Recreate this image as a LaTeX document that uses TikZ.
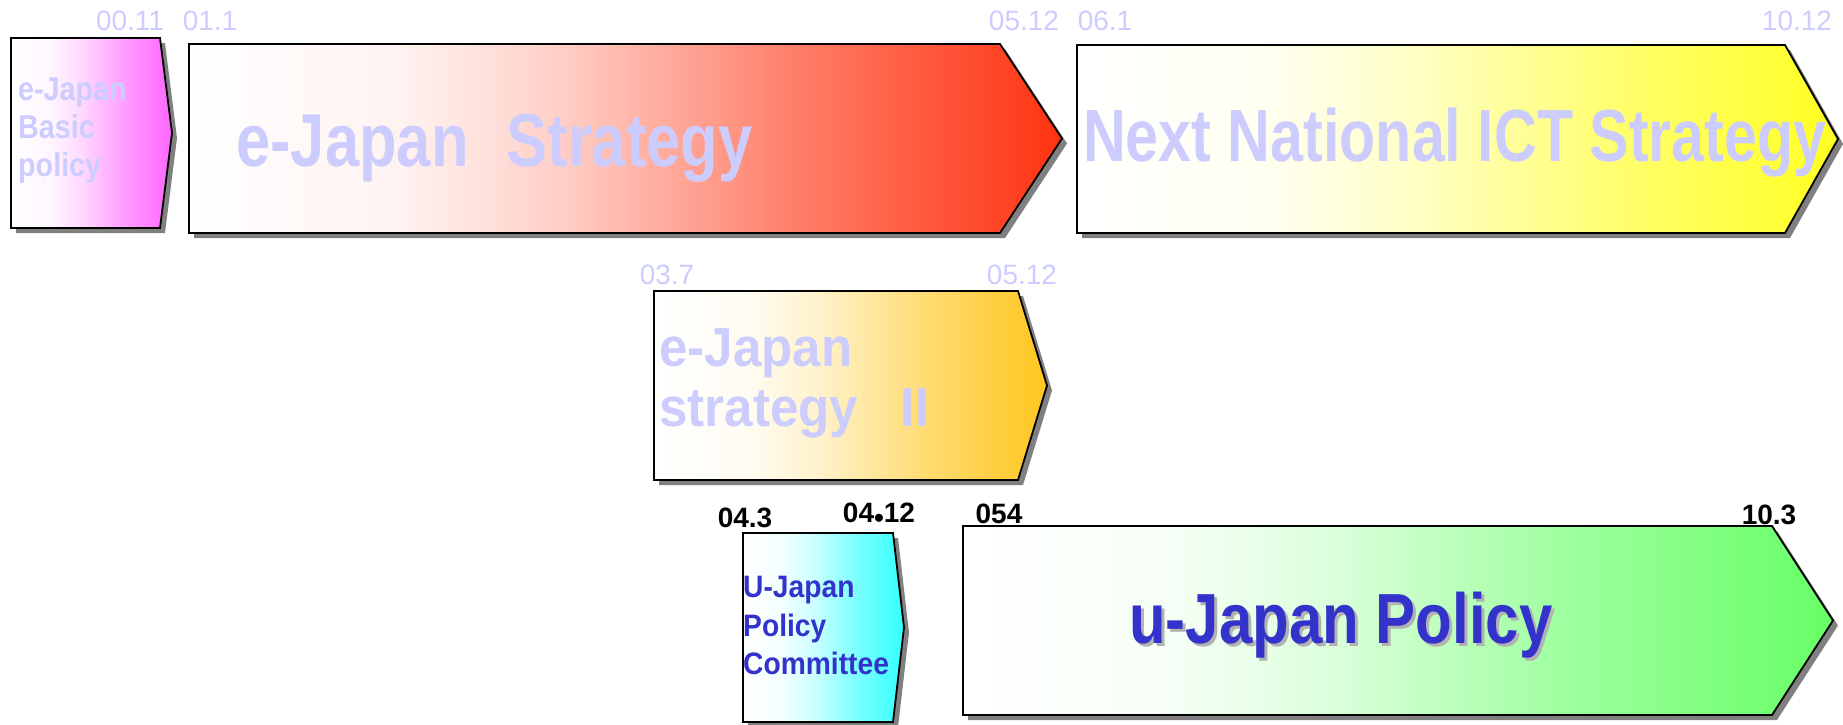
\documentclass[tikz,border=0pt]{standalone}
\usepackage{fontspec}
\setmainfont{Liberation Sans}
\usetikzlibrary{shadows}

\definecolor{lav}{HTML}{CCCCFF}
\definecolor{ublue}{HTML}{3333CC}
\definecolor{cMag}{HTML}{FF66FF}
\definecolor{cRed}{HTML}{FF3311}
\definecolor{cYel}{HTML}{FFFF22}
\definecolor{cGold}{HTML}{FFC61E}
\definecolor{cCyan}{HTML}{33FFFF}
\definecolor{cGreen}{HTML}{66FF66}
\colorlet{rampcol}{white}

% white on the left, the phase colour coming in on the right
\pgfdeclarehorizontalshading[rampcol]{ramp}{100bp}{color(0bp)=(white); color(25bp)=(white);
  color(37bp)=(rampcol!6!white); color(46bp)=(rampcol!23!white); color(52.5bp)=(rampcol!42!white);
  color(60bp)=(rampcol!64!white); color(67.5bp)=(rampcol!82!white); color(75bp)=(rampcol); color(100bp)=(rampcol)}

\newcommand{\tlfont}[3]{\bfseries\fontsize{#1}{#2}\selectfont\addfontfeatures{FakeStretch=#3}}

\tikzset{
  phase/.style={draw=black, line width=1.8pt, shade, shading=ramp,
    drop shadow={shadow xshift=5pt, shadow yshift=-5pt, fill=black!50, opacity=1}},
  title/.style={inner sep=0pt, align=left},
  datelbl/.style={inner sep=0pt, anchor=base, text=lav, font=\fontsize{28}{30}\selectfont},
  datemark/.style={inner sep=0pt, anchor=base, text=black, font=\bfseries\fontsize{28}{30}\selectfont}
}

\begin{document}
\begin{tikzpicture}[x=1pt,y=-1pt]
  \useasboundingbox (0,0) rectangle (1843,724);

  % the phases
  \foreach \col/\xa/\ya/\xc/\xt/\yb in {cMag/11/38/160/172/228, cRed/189/44/1000/1062/233,
      cYel/1077/45/1785/1838/233, cGold/654/291/1018/1047/480,
      cCyan/743/533/893/904/722, cGreen/963/526/1772/1833/715}
    {\colorlet{rampcol}{\col}
     \path[phase] (\xa,\ya) -- (\xc,\ya) -- (\xt,{(\ya+\yb)/2}) -- (\xc,\yb) -- (\xa,\yb) -- cycle;}

  % names of the phases
  \node[title, text=lav, anchor=north west, font=\tlfont{33}{38}{0.87}] (basic) at (18,78) {e-Japan\\Basic\\policy};
  \node[title, text=lav, anchor=base west, font=\tlfont{75}{80}{0.82}] (strat) at (236,166) {e-Japan\hspace{38pt}Strategy};
  \node[title, text=lav, anchor=base west, font=\tlfont{74}{80}{0.80}] (next) at (1083,161) {Next National ICT Strategy};
  \node[title, text=lav, anchor=north west, font=\tlfont{55}{60}{0.93}] (strat2) at (659,328) {e-Japan\\strategy\ \ \ II};
  \node[title, text=ublue, anchor=north west, font=\tlfont{31}{38.5}{0.91}] (comm) at (743,576) {U-Japan\\Policy\\Committee};
  \node[title, text=black!30, anchor=base west, font=\tlfont{71}{75}{0.845}] (upolsh) at (1132,646) {u-Japan Policy};
  \node[title, text=ublue, anchor=base west, font=\tlfont{71}{75}{0.845}] (upol) at (1129,643) {u-Japan Policy};

  % dates
  \node[datelbl] (d0011) at (130,30) {00.11};
  \node[datelbl] (d0101) at (210,30) {01.1};
  \node[datelbl] (d0512) at (1024,30) {05.12};
  \node[datelbl] (d0601) at (1105,30) {06.1};
  \node[datelbl] (d1012) at (1797,30) {10.12};
  \node[datelbl] (d0307) at (667,284) {03.7};
  \node[datelbl] (d0512b) at (1022,284) {05.12};
  \node[datemark] (d0403) at (745,527) {04.3};
  \node[datemark] (d0412) at (879,522) {04\raisebox{-0.18em}{•}12};
  \node[datemark] (d0504) at (999,523) {054};
  \node[datemark] (d1003) at (1769,524) {10.3};
\end{tikzpicture}
\end{document}
